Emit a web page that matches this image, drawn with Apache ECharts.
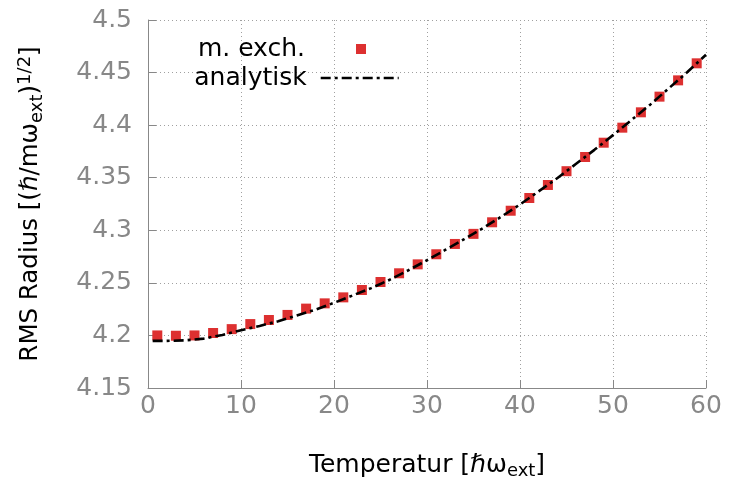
<!DOCTYPE html>
<html>
<head>
<meta charset="utf-8">
<script src="https://cdn.jsdelivr.net/npm/echarts@6/dist/echarts.min.js"></script>
<style>
html,body{margin:0;padding:0;background:#fff;}
#c{width:729px;height:486px;}
</style>
</head>
<body>
<div id="c"></div>
<script>
// Simulation ("m. exch.") points
const simX = [1,3,5,7,9,11,13,15,17,19,21,23,25,27,29,31,33,35,37,39,41,43,45,47,49,51,53,55,57,59];
const simY = [4.2000,4.1997,4.2000,4.2023,4.2060,4.2108,4.2147,4.2195,4.2255,4.2305,4.2362,4.2432,4.2508,4.2591,4.2676,4.2772,4.2870,4.2966,4.3076,4.3186,4.3307,4.3431,4.3562,4.3697,4.3833,4.3976,4.4122,4.4271,4.4426,4.4588];
// Analytic curve ("analytisk")
const anaX = [0.5,2,4,6,8,10,12,14,16,18,20,22,24,26,28,30,32,34,36,38,40,42,44,46,48,50,52,54,56,58,60];
const anaY = [4.1948,4.1948,4.1953,4.1970,4.2005,4.2050,4.2090,4.2135,4.2190,4.2245,4.2310,4.2380,4.2450,4.2530,4.2620,4.2715,4.2815,4.2915,4.3020,4.3130,4.3245,4.3370,4.3495,4.3630,4.3765,4.3905,4.4050,4.4195,4.4350,4.4505,4.4670];
// Axes
const xMin = 0, xMax = 60, xStep = 10;
const yMin = 4.15, yMax = 4.5, yStep = 0.05;
const seriesNames = ['m. exch.', 'analytisk'];

const FONT = 'DejaVu Sans';
const chart = echarts.init(document.getElementById('c'), null, {renderer: 'canvas'});

const zip = (xs, ys) => xs.map((x, i) => [x, ys[i]]);

const gridColor = '#a0a0a0';
const axisColor = '#888888';

chart.setOption({
  backgroundColor: '#ffffff',
  animation: false,
  grid: {left: 148, right: 23, top: 20, bottom: 98, containLabel: false},
  legend: [
    {
      data: [{name: seriesNames[0], icon: 'rect'}],
      orient: 'vertical', align: 'right',
      right: 363, top: 33, padding: 0,
      itemWidth: 10, itemHeight: 10,
      itemStyle: {opacity: 1},
      textStyle: {fontFamily: FONT, fontSize: 25, color: '#000', lineHeight: 28, padding: [4, 46, 0, 0]},
      selectedMode: false
    },
    {
      data: [seriesNames[1]], orient: 'vertical', align: 'right',
      right: 329, top: 64, padding: 0,
      itemWidth: 78, itemHeight: 10,
      itemStyle: {opacity: 0},
      lineStyle: {color: '#000', width: 2.6, type: [10, 4, 3, 4], opacity: 1},
      textStyle: {fontFamily: FONT, fontSize: 25, color: '#000', lineHeight: 28, padding: [0, 9, 0, 0]},
      selectedMode: false
    }
  ],
  xAxis: {
    type: 'value', min: xMin, max: xMax, interval: xStep,
    name: 'Temperatur [ℏω{sub|ext}]',
    nameLocation: 'middle', nameGap: 62,
    nameTextStyle: {
      fontFamily: FONT, fontSize: 25, color: '#000', lineHeight: 30,
      rich: {sub: {fontFamily: FONT, fontSize: 18, lineHeight: 17, verticalAlign: 'bottom', color: '#000'}}
    },
    axisLine: {onZero: false, lineStyle: {color: axisColor, width: 1}},
    axisTick: {inside: true, length: 8, lineStyle: {color: axisColor}},
    axisLabel: {fontFamily: FONT, fontSize: 25, color: '#888', margin: 6},
    splitLine: {show: true, lineStyle: {color: gridColor, type: [1, 3], width: 1}}
  },
  yAxis: {
    type: 'value', min: yMin, max: yMax, interval: yStep,
    name: 'RMS Radius [(ℏ/mω{sub|ext}){sup|1/2}]',
    nameLocation: 'middle', nameGap: 102, nameRotate: 90,
    nameTextStyle: {
      fontFamily: FONT, fontSize: 24.5, color: '#000', lineHeight: 30,
      rich: {
        sub: {fontFamily: FONT, fontSize: 18, lineHeight: 17, verticalAlign: 'bottom', color: '#000'},
        sup: {fontFamily: FONT, fontSize: 18, lineHeight: 17, verticalAlign: 'top', color: '#000'}
      }
    },
    axisLine: {show: true, onZero: false, lineStyle: {color: axisColor, width: 1}},
    axisTick: {show: true, inside: true, length: 8, lineStyle: {color: axisColor}},
    axisLabel: {fontFamily: FONT, fontSize: 25, color: '#888', margin: 16},
    splitLine: {show: true, lineStyle: {color: gridColor, type: [1, 3], width: 1}}
  },
  series: [
    {
      name: seriesNames[0], type: 'scatter', symbol: 'rect', symbolSize: 10,
      itemStyle: {color: '#dd3030', opacity: 1},
      data: zip(simX, simY), z: 2
    },
    {
      name: seriesNames[1], type: 'line', showSymbol: false, symbol: 'none',
      lineStyle: {color: '#000', width: 2.6, type: [10, 4, 3, 4]},
      itemStyle: {color: '#000'},
      data: zip(anaX, anaY), z: 3
    }
  ]
});
</script>
</body>
</html>
